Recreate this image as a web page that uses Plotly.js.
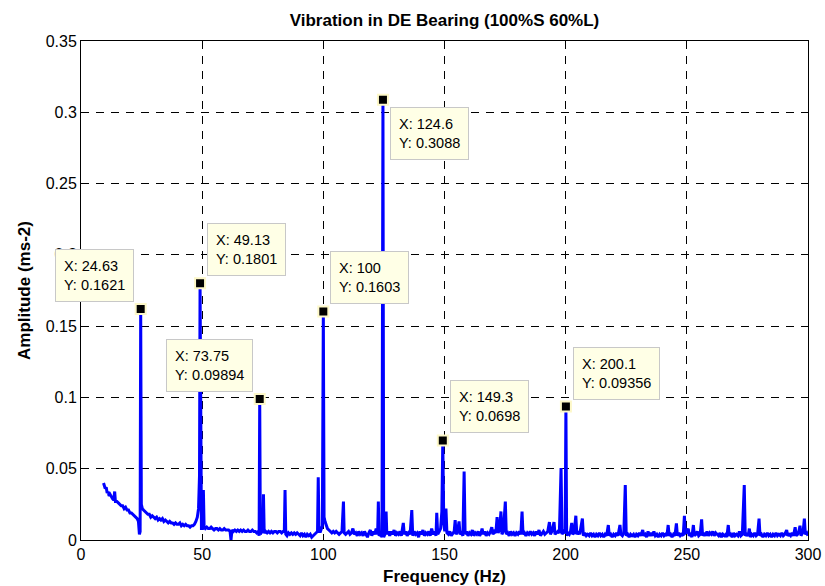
<!DOCTYPE html>
<html><head><meta charset="utf-8">
<script src="https://cdn.plot.ly/plotly-3.0.1.min.js"></script>
<style>html,body{margin:0;padding:0;background:#fff}#chart{width:825px;height:586px}</style>
</head><body><div id="chart"></div>
<script>
// Spectrum: [frequency Hz, amplitude ms-2]
const spectrum = [
[9.3,0.040],[9.6,0.038],[10.0,0.036],[10.4,0.037],[10.8,0.033],[11.2,0.034],[11.6,0.031],[12.0,0.032],[12.5,0.030],[13.0,0.029],
[13.5,0.028],[13.9,0.034],[14.2,0.027],[14.8,0.027],[15.4,0.026],[16.0,0.025],[16.6,0.024],[17.2,0.024],[17.8,0.022],[18.4,0.023],
[19.0,0.021],[19.6,0.021],[20.2,0.019],[20.8,0.019],[21.4,0.018],[22.0,0.017],[22.6,0.016],[23.2,0.015],[23.7,0.013],[24.1,0.004],
[24.4,0.006],[24.63,0.1621],[24.9,0.025],[25.3,0.022],[25.8,0.021],[26.4,0.020],[27.0,0.019],[27.6,0.018],[28.2,0.018],[28.8,0.016],
[29.4,0.017],[30.0,0.016],[30.6,0.015],[31.2,0.016],[31.8,0.014],[32.4,0.015],[33.0,0.014],[33.6,0.015],[34.2,0.013],[34.8,0.014],
[35.4,0.013],[36.0,0.012],[36.6,0.013],[37.2,0.012],[37.8,0.012],[38.4,0.011],[39.0,0.012],[39.6,0.011],[40.2,0.011],[40.8,0.012],
[41.4,0.010],[42.0,0.011],[42.6,0.010],[43.2,0.011],[43.8,0.010],[44.4,0.010],[45.0,0.009],[45.6,0.010],[46.2,0.010],[46.8,0.011],
[47.4,0.013],[48.0,0.016],[48.5,0.022],[48.9,0.045],[49.13,0.1801],[49.4,0.030],[49.7,0.008],[50.1,0.008],[50.5,0.035],[50.8,0.009],
[51.3,0.008],[51.9,0.009],[52.5,0.008],[53.1,0.008],[53.7,0.009],[54.3,0.008],[54.9,0.007],[55.5,0.008],[56.1,0.008],[56.7,0.007],
[57.3,0.008],[57.9,0.007],[58.5,0.007],[59.1,0.008],[59.7,0.007],[60.3,0.007],[60.9,0.007],[61.5,0.006],[61.9,0.000],[62.3,0.007],
[62.9,0.006],[63.5,0.007],[64.1,0.006],[64.7,0.007],[65.3,0.006],[65.9,0.007],[66.5,0.006],[67.1,0.007],[67.7,0.006],[68.3,0.006],
[68.9,0.007],[69.5,0.006],[70.1,0.006],[70.7,0.007],[71.3,0.006],[71.9,0.006],[72.5,0.005],[73.1,0.006],[73.5,0.003],[73.75,0.09894],
[74.0,0.004],[74.5,0.006],[75.0,0.005],[75.3,0.032],[75.6,0.005],[76.2,0.006],[76.8,0.005],[77.4,0.006],[78.0,0.005],[78.6,0.006],
[79.2,0.005],[79.8,0.006],[80.4,0.006],[81.0,0.005],[81.6,0.006],[82.2,0.006],[82.8,0.005],[83.4,0.006],[83.9,0.006],[84.2,0.035],
[84.5,0.004],[85.0,0.003],[85.6,0.005],[86.2,0.004],[86.8,0.005],[87.4,0.004],[88.0,0.005],[88.6,0.004],[89.2,0.005],[89.8,0.004],
[90.4,0.003],[91.0,0.005],[91.6,0.003],[92.2,0.004],[92.8,0.002],[93.4,0.004],[94.0,0.003],[94.6,0.004],[95.2,0.002],[95.8,0.003],
[96.4,0.004],[97.0,0.005],[97.6,0.006],[97.9,0.044],[98.2,0.006],[98.8,0.006],[99.3,0.008],[99.6,0.010],[100.0,0.1603],[100.3,0.016],
[100.7,0.013],[101.2,0.010],[101.7,0.008],[102.3,0.007],[102.9,0.006],[103.5,0.005],[104.1,0.006],[104.7,0.005],[105.3,0.006],[105.9,0.005],
[106.5,0.004],[107.1,0.005],[107.7,0.006],[108.3,0.027],[108.6,0.005],[109.2,0.004],[109.8,0.005],[110.4,0.006],[111.0,0.004],[111.6,0.005],
[112.2,0.008],[112.8,0.004],[113.4,0.005],[114.0,0.003],[114.6,0.006],[115.2,0.004],[115.8,0.005],[116.4,0.003],[117.0,0.006],[117.6,0.004],
[118.2,0.002],[118.8,0.005],[119.4,0.007],[120.0,0.003],[120.6,0.006],[121.2,0.004],[121.8,0.008],[122.4,0.004],[122.7,0.027],[123.0,0.003],
[123.6,0.004],[124.2,0.002],[124.6,0.3088],[124.9,0.002],[125.4,0.004],[125.9,0.020],[126.2,0.004],[126.8,0.006],[127.4,0.003],[128.0,0.006],
[128.6,0.004],[129.2,0.007],[129.8,0.003],[130.4,0.005],[131.0,0.004],[131.6,0.006],[132.2,0.003],[133.0,0.012],[133.4,0.004],[134.0,0.006],
[134.6,0.003],[135.2,0.005],[135.8,0.004],[136.5,0.021],[136.9,0.003],[137.5,0.006],[138.1,0.004],[138.7,0.005],[139.3,0.002],[139.9,0.006],
[140.5,0.004],[141.1,0.007],[141.7,0.003],[142.3,0.005],[142.9,0.004],[143.5,0.006],[144.1,0.003],[144.7,0.008],[145.3,0.004],[145.9,0.006],
[146.5,0.003],[146.8,0.019],[147.2,0.004],[147.8,0.006],[148.4,0.008],[148.9,0.020],[149.3,0.0698],[149.7,0.012],[150.1,0.006],[150.6,0.022],
[151.0,0.005],[151.6,0.004],[152.2,0.006],[152.8,0.003],[153.4,0.005],[154.0,0.006],[154.4,0.014],[154.8,0.004],[155.4,0.006],[156.0,0.013],
[156.4,0.004],[157.0,0.005],[157.6,0.003],[158.1,0.048],[158.5,0.004],[159.1,0.006],[159.7,0.003],[160.3,0.005],[160.9,0.004],[161.5,0.007],
[162.1,0.003],[162.7,0.005],[163.3,0.004],[163.9,0.006],[164.5,0.003],[165.1,0.005],[165.5,0.008],[166.0,0.004],[166.6,0.006],[167.2,0.003],
[167.8,0.005],[168.4,0.004],[169.0,0.006],[169.5,0.009],[170.0,0.004],[170.6,0.006],[171.2,0.005],[171.7,0.016],[172.1,0.005],[172.7,0.007],
[173.3,0.020],[173.7,0.004],[174.3,0.006],[175.1,0.027],[175.5,0.004],[176.1,0.005],[176.7,0.003],[177.3,0.006],[177.9,0.004],[178.5,0.005],
[179.1,0.003],[179.7,0.005],[180.3,0.004],[180.9,0.006],[181.5,0.004],[182.0,0.020],[182.4,0.004],[183.0,0.005],[183.6,0.003],[184.2,0.005],
[184.8,0.004],[185.4,0.006],[186.0,0.004],[186.6,0.005],[187.2,0.003],[187.8,0.006],[188.4,0.004],[189.0,0.007],[189.6,0.003],[190.2,0.005],
[190.8,0.006],[191.4,0.004],[192.0,0.005],[192.6,0.006],[193.3,0.0126],[193.7,0.004],[194.3,0.006],[195.2,0.0126],[195.6,0.004],[196.2,0.005],
[196.8,0.006],[197.4,0.005],[198.1,0.0505],[198.5,0.004],[199.2,0.006],[199.8,0.005],[200.1,0.09356],[200.4,0.003],[200.9,0.005],[201.5,0.004],
[202.0,0.006],[202.5,0.012],[202.9,0.004],[203.5,0.005],[204.2,0.017],[204.6,0.004],[205.2,0.006],[205.8,0.004],[206.9,0.015],[207.3,0.003],
[207.9,0.005],[208.5,0.003],[209.1,0.004],[209.7,0.003],[210.3,0.005],[210.9,0.003],[211.5,0.004],[212.1,0.002],[212.7,0.004],[213.3,0.003],
[213.9,0.005],[214.5,0.003],[215.1,0.004],[215.7,0.002],[216.3,0.004],[216.9,0.003],[217.6,0.0105],[218.0,0.003],[218.6,0.004],[219.2,0.002],
[219.8,0.004],[220.4,0.003],[221.0,0.005],[221.6,0.003],[222.4,0.0105],[222.8,0.004],[223.4,0.003],[224.0,0.005],[224.6,0.0385],[225.0,0.003],
[225.6,0.004],[226.2,0.002],[226.8,0.004],[227.4,0.003],[228.0,0.004],[228.6,0.002],[229.2,0.004],[229.8,0.003],[230.4,0.005],[231.0,0.003],
[231.8,0.007],[232.2,0.003],[232.8,0.004],[233.4,0.002],[234.0,0.006],[234.6,0.003],[235.2,0.005],[235.8,0.003],[236.4,0.006],[237.0,0.003],
[237.6,0.004],[238.2,0.002],[238.8,0.004],[239.4,0.003],[240.0,0.005],[240.6,0.003],[241.2,0.004],[241.8,0.003],[242.3,0.0105],[242.7,0.003],
[243.3,0.004],[243.9,0.002],[244.5,0.004],[245.1,0.003],[245.7,0.0117],[246.1,0.003],[246.7,0.005],[247.3,0.003],[247.9,0.004],[248.5,0.003],
[249.0,0.017],[249.4,0.004],[250.0,0.006],[250.6,0.008],[251.0,0.003],[251.6,0.004],[252.1,0.002],[252.7,0.0105],[253.1,0.003],[253.7,0.004],
[254.3,0.006],[254.9,0.003],[255.5,0.004],[256.1,0.0145],[256.5,0.003],[257.1,0.005],[257.7,0.003],[258.3,0.006],[258.9,0.003],[259.5,0.005],
[260.1,0.004],[260.7,0.006],[261.3,0.003],[261.9,0.005],[262.5,0.004],[263.1,0.003],[263.7,0.005],[264.3,0.002],[264.9,0.004],[265.5,0.003],
[266.1,0.004],[266.5,0.002],[267.1,0.0105],[267.5,0.003],[268.1,0.004],[268.7,0.002],[269.3,0.005],[269.9,0.003],[270.5,0.004],[271.1,0.003],
[271.7,0.006],[272.3,0.003],[272.9,0.004],[273.7,0.0385],[274.1,0.003],[274.7,0.004],[275.3,0.003],[275.8,0.008],[276.2,0.002],[276.8,0.004],
[277.4,0.003],[278.0,0.005],[278.6,0.003],[279.2,0.004],[279.8,0.015],[280.2,0.003],[280.8,0.004],[281.4,0.002],[282.0,0.004],[282.6,0.003],
[283.2,0.005],[283.8,0.003],[284.4,0.004],[285.0,0.002],[285.6,0.004],[286.2,0.003],[286.8,0.005],[287.4,0.003],[288.0,0.004],[288.6,0.003],
[289.2,0.005],[289.8,0.003],[290.4,0.004],[291.2,0.007],[291.6,0.003],[292.2,0.004],[292.8,0.003],[293.4,0.005],[294.0,0.003],[294.7,0.009],
[295.1,0.003],[295.7,0.004],[296.2,0.006],[296.7,0.010],[297.1,0.003],[297.7,0.005],[298.1,0.008],[298.5,0.015],[298.9,0.004],[299.5,0.005],
[300.0,0.003]
];

// Data tips shown on the chart
const tipFreq = [24.63, 49.13, 73.75, 100, 124.6, 149.3, 200.1];
const tipAmp  = [0.1621, 0.1801, 0.09894, 0.1603, 0.3088, 0.0698, 0.09356];
const tipSide = ['ul', 'ur', 'ul', 'ur', 'dr', 'ur', 'ur'];

const xTickVals = [0, 50, 100, 150, 200, 250, 300];
const yTickVals = [0, 0.05, 0.1, 0.15, 0.2, 0.25, 0.3, 0.35];

const chartTitle = 'Vibration in DE Bearing (100%S 60%L)';
const xTitle = 'Frequency (Hz)';
const yTitle = 'Amplitude (ms-2)';

const FONT = 'Liberation Sans, Arial, Helvetica, sans-serif';

const lineTrace = {
  x: spectrum.map(p => p[0]),
  y: spectrum.map(p => p[1]),
  type: 'scatter', mode: 'lines',
  line: {color: '#0000ff', width: 3},
  hoverinfo: 'skip'
};
const tipTrace = {
  x: tipFreq, y: tipAmp, type: 'scatter', mode: 'markers',
  marker: {symbol: 'square', size: 10, color: '#000000', line: {color: '#fdf8c8', width: 2}},
  cliponaxis: false, hoverinfo: 'skip'
};

const annotations = tipFreq.map((f, i) => {
  const s = tipSide[i];
  const up = s[0] === 'u', right = s[1] === 'r';
  return {
    x: f, y: tipAmp[i], xref: 'x', yref: 'y', showarrow: false,
    text: 'X: ' + f + '<br>Y: ' + tipAmp[i],
    align: 'left', valign: 'middle',
    xanchor: right ? 'left' : 'right', yanchor: up ? 'bottom' : 'top',
    xshift: right ? 7 : -7, yshift: up ? 7 : -7,
    bgcolor: '#ffffe6', bordercolor: '#c8c8c8', borderwidth: 1, borderpad: 8,
    font: {family: FONT, size: 14.5, color: '#000'}
  };
});

const axisCommon = {
  showline: true, linecolor: '#000', linewidth: 1, mirror: 'ticks',
  ticks: 'inside', ticklen: 6, tickcolor: '#000', tickwidth: 1,
  showgrid: true, gridcolor: '#000', gridwidth: 1, griddash: '8px,7px',
  zeroline: false, tickfont: {family: FONT, size: 16, color: '#000'}
};

const layout = {
  width: 825, height: 586,
  margin: {l: 81, r: 17, t: 41, b: 46},
  paper_bgcolor: '#fff', plot_bgcolor: '#fff',
  showlegend: false,
  title: {text: chartTitle, font: {family: FONT, size: 17, weight: 'bold', color: '#000'},
          x: 0.5, xref: 'paper', xanchor: 'center', y: 1 - 20.5/586, yref: 'container', yanchor: 'middle'},
  xaxis: Object.assign({}, axisCommon, {
    range: [0, 300], tickvals: xTickVals, ticktext: xTickVals.map(String),
    title: {text: xTitle, font: {family: FONT, size: 17, weight: 'bold', color: '#000'}, standoff: 8}
  }),
  yaxis: Object.assign({}, axisCommon, {
    range: [0, 0.35], tickvals: yTickVals, ticktext: yTickVals.map(String),
    title: {text: yTitle, font: {family: FONT, size: 17, weight: 'bold', color: '#000'}, standoff: 10}
  }),
  annotations: annotations
};

Plotly.newPlot('chart', [lineTrace, tipTrace], layout, {displayModeBar: false, staticPlot: true});
</script>
</body></html>
